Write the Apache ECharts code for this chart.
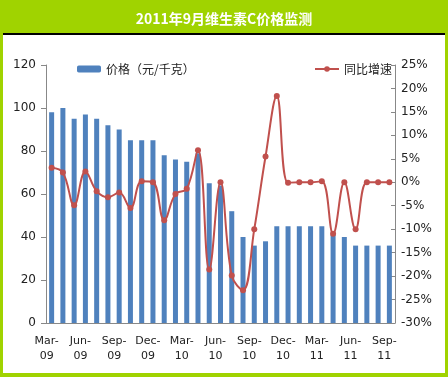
<!DOCTYPE html>
<html>
<head>
<meta charset="utf-8">
<script src="https://cdn.jsdelivr.net/npm/echarts@6/dist/echarts.min.js"></script>
<style>
html,body{margin:0;padding:0;}
#main{width:448px;height:377px;}
</style>
</head>
<body>
<div id="main"></div>
<script>
var months = ['Mar-09','Apr-09','May-09','Jun-09','Jul-09','Aug-09','Sep-09','Oct-09','Nov-09','Dec-09',
    'Jan-10','Feb-10','Mar-10','Apr-10','May-10','Jun-10','Jul-10','Aug-10','Sep-10','Oct-10','Nov-10','Dec-10',
    'Jan-11','Feb-11','Mar-11','Apr-11','May-11','Jun-11','Jul-11','Aug-11','Sep-11'];
// 价格 元/千克
var price = [98,100,95,97,95,92,90,85,85,85,78,76,75,79,65,64,52,40,36,38,45,45,45,45,45,41,40,36,36,36,36];
// 同比增速 %
var growth = [3.1,2.1,-4.9,2.3,-1.9,-3.2,-2.2,-5.5,0.2,0,-8.1,-2.5,-1.4,6.8,-18.6,0,-19.9,-23,-10,5.5,18.4,-0.1,0,0,0.2,-11,0,-10,0,0,0];
var titleText = '2011年9月维生素C价格监测';

var dom = document.getElementById('main');
var myChart = echarts.init(dom);
var labelFont = 'DejaVu Sans, sans-serif';

var option = {
    backgroundColor: '#A0D300',
    animation: false,
    graphic: [
        {type: 'rect', shape: {x: 3, y: 34, width: 442, height: 339}, style: {fill: '#fff'}},
        {type: 'rect', shape: {x: 3, y: 33, width: 442, height: 2}, style: {fill: '#000'}},
        {type: 'text', x: 224, y: 19, style: {
            text: titleText, fill: '#fff', font: 'bold 14px "Noto Sans CJK SC"',
            align: 'center', verticalAlign: 'middle'
        }}
    ],
    color: ['#4F81BD', '#C0504D'],
    legend: [
        {
            left: 72, top: 58,
            itemWidth: 24, itemHeight: 7, itemGap: 2,
            textStyle: {color: '#222', fontSize: 12, fontFamily: 'Noto Sans CJK SC'},
            data: [{name: '价格（元/千克）', itemStyle: {borderRadius: 0}}]
        },
        {
            left: 309, top: 58,
            itemWidth: 24, itemHeight: 7, itemGap: 2,
            textStyle: {color: '#222', fontSize: 12, fontFamily: 'Noto Sans CJK SC'},
            data: ['同比增速']
        }
    ],
    grid: {left: 46, right: 53, top: 65, bottom: 54},
    xAxis: {
        type: 'category',
        data: months,
        axisLine: {lineStyle: {color: '#888'}},
        axisTick: {interval: 2, length: 5, lineStyle: {color: '#888'}},
        axisLabel: {
            interval: 2,
            color: '#222',
            fontSize: 11,
            fontFamily: labelFont,
            lineHeight: 15,
            margin: 11,
            padding: [0, 10, 0, 0],
            formatter: function (v) { return v.replace('-', '-\n'); }
        }
    },
    yAxis: [
        {
            type: 'value', min: 0, max: 120, interval: 20,
            splitLine: {show: false},
            axisLine: {show: true, lineStyle: {color: '#888'}},
            axisTick: {show: true, length: 5, lineStyle: {color: '#888'}},
            axisLabel: {color: '#222', fontSize: 12, fontFamily: labelFont, margin: 10}
        },
        {
            type: 'value', min: -30, max: 25, interval: 5,
            splitLine: {show: false},
            axisLine: {show: true, lineStyle: {color: '#888'}},
            axisTick: {show: true, inside: true, length: 4, lineStyle: {color: '#888'}},
            axisLabel: {color: '#222', fontSize: 12, fontFamily: labelFont, margin: 6, formatter: '{value}%'}
        }
    ],
    series: [
        {
            name: '价格（元/千克）',
            type: 'bar',
            barWidth: 5,
            data: price
        },
        {
            name: '同比增速',
            type: 'line',
            yAxisIndex: 1,
            smooth: 0.4,
            symbol: 'circle',
            symbolSize: 6,
            lineStyle: {width: 2},
            data: growth
        }
    ]
};

if (option && typeof option === "object") {
    myChart.setOption(option, true);
}
</script>
</body>
</html>
